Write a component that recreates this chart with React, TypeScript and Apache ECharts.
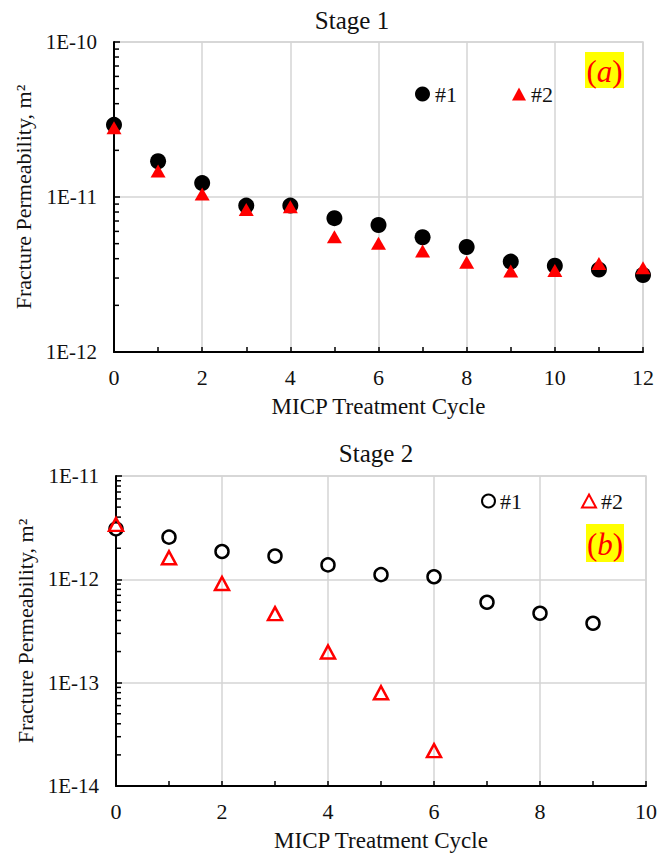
import React, { useEffect, useRef } from "react";
import * as echarts from "echarts";

// ---- Data ----
const stage1Cycles = [0, 1, 2, 3, 4, 5, 6, 7, 8, 9, 10, 11, 12];
const stage1Sample1 = [2.92e-11, 1.7e-11, 1.23e-11, 8.8e-12, 8.8e-12, 7.3e-12, 6.6e-12, 5.5e-12, 4.76e-12, 3.83e-12, 3.6e-12, 3.4e-12, 3.14e-12];
const stage1Sample2 = [2.8e-11, 1.47e-11, 1.045e-11, 8.3e-12, 8.65e-12, 5.55e-12, 5.03e-12, 4.49e-12, 3.79e-12, 3.33e-12, 3.35e-12, 3.73e-12, 3.5e-12];

const stage2Cycles1 = [0, 1, 2, 3, 4, 5, 6, 7, 8, 9];
const stage2Sample1 = [3.08e-12, 2.56e-12, 1.86e-12, 1.68e-12, 1.38e-12, 1.11e-12, 1.06e-12, 6.0e-13, 4.7e-13, 3.76e-13];
const stage2Cycles2 = [0, 1, 2, 3, 4, 5, 6];
const stage2Sample2 = [3.4e-12, 1.62e-12, 9.1e-13, 4.66e-13, 1.98e-13, 8.0e-14, 2.2e-14];

const titles = ["Stage 1", "Stage 2"];
const panelLabels = ["a", "b"];
const xAxisTitle = "MICP Treatment Cycle";
const yAxisTitle = "Fracture Permeability, m²";

const FONT = "Liberation Serif";

function minorValues(minExp: number, maxExp: number): number[] {
  const out: number[] = [];
  for (let e = minExp; e < maxExp; e++) {
    for (let k = 2; k <= 9; k++) out.push(parseFloat((k * Math.pow(10, e)).toPrecision(3)));
  }
  return out;
}

const pair = (xs: number[], ys: number[]) => xs.map((x, i) => [x, ys[i]]);

export default function App() {
  const ref = useRef<HTMLDivElement>(null);
  useEffect(() => {
    if (!ref.current) return;
    const chart = echarts.init(ref.current, null, { renderer: "svg" });

    const grids = [
      { left: 114, top: 42, width: 529, height: 310 },
      { left: 116, top: 476, width: 530, height: 310 },
    ];

    const mkX = (gi: number, max: number) => ({
      type: "value",
      gridIndex: gi,
      min: 0,
      max,
      interval: 2,
      name: xAxisTitle,
      nameLocation: "middle",
      nameGap: 43,
      nameTextStyle: { fontFamily: FONT, fontSize: 23, color: "#111" },
      axisLine: { show: true, onZero: false, lineStyle: { color: "#000", width: 2 } },
      axisTick: { show: true, inside: true, length: 5, lineStyle: { color: "#000", width: 1.5 } },
      minorTick: { show: true, splitNumber: 2, length: 5, lineStyle: { color: "#000", width: 1.5 } },
      axisLabel: { fontFamily: FONT, fontSize: 22, color: "#111", margin: 14 },
      splitLine: { show: true, lineStyle: { color: "#d4d4d4", width: 1.5 } },
    });

    const mkY = (gi: number, min: number, max: number) => ({
      type: "log",
      logBase: 10,
      gridIndex: gi,
      min,
      max,
      name: yAxisTitle,
      nameLocation: "middle",
      nameGap: 78,
      nameTextStyle: { fontFamily: FONT, fontSize: 22, color: "#111" },
      axisLine: { show: true, onZero: false, lineStyle: { color: "#000", width: 2 } },
      axisTick: { show: true, inside: true, length: 6, lineStyle: { color: "#000", width: 1.5 } },
      axisLabel: {
        fontFamily: FONT,
        fontSize: 21,
        color: "#111",
        margin: 17,
        formatter: (v: number) => "1E" + Math.round(Math.log10(v)),
      },
      splitLine: { show: true, lineStyle: { color: "#d4d4d4", width: 1.5 } },
    });

    const minorSeries = (gi: number, vals: number[]) => [
      {
        type: "scatter",
        name: "minorGrid" + gi,
        xAxisIndex: gi,
        yAxisIndex: gi,
        data: [],
        silent: true,
        z: 1,
        markLine: {
          silent: true,
          symbol: "none",
          animation: false,
          label: { show: false },
          lineStyle: { color: "#e8e8e8", type: "solid", width: 1.2 },
          data: vals.map((v) => ({ yAxis: v })),
        },
      },
      {
        type: "scatter",
        name: "minorTick" + gi,
        xAxisIndex: gi,
        yAxisIndex: gi,
        silent: true,
        z: 2,
        symbol: "rect",
        symbolSize: [5, 1.5],
        symbolOffset: [2.5, 0],
        itemStyle: { color: "#000", opacity: 1 },
        data: vals.map((v) => [0, v]),
      },
    ];

    const legendText = { fontFamily: FONT, fontSize: 22, color: "#111" };
    const fmt = (n: string) => n.split(" ")[1];

    const richLabel = {
      p: { fontFamily: FONT, fontSize: 31, fill: "#ff0000", color: "#ff0000" },
      i: { fontFamily: FONT, fontSize: 31, fontStyle: "italic", fill: "#ff0000", color: "#ff0000" },
    };

    const option: any = {
      animation: false,
      backgroundColor: "#fff",
      grid: grids.map((g) => ({ ...g, show: true, borderColor: "#d4d4d4", borderWidth: 1.5, backgroundColor: "transparent" })),
      xAxis: [mkX(0, 12), mkX(1, 10)],
      yAxis: [mkY(0, 1e-12, 1e-10), mkY(1, 1e-14, 1e-11)],
      legend: [
        { data: ["S1 #1"], left: 410, top: 78, itemWidth: 15, itemHeight: 15, itemGap: 4, formatter: fmt, textStyle: legendText, selectedMode: false },
        { data: ["S1 #2"], left: 507, top: 78, itemWidth: 14, itemHeight: 13, itemGap: 4, formatter: fmt, textStyle: legendText, selectedMode: false },
        { data: ["S2 #1"], left: 476, top: 485, itemWidth: 13, itemHeight: 13, itemGap: 4, formatter: fmt, textStyle: legendText, selectedMode: false },
        { data: ["S2 #2"], left: 576, top: 485, itemWidth: 14, itemHeight: 13, itemGap: 4, formatter: fmt, textStyle: legendText, selectedMode: false },
      ],
      series: [
        ...minorSeries(0, minorValues(-12, -10)),
        ...minorSeries(1, minorValues(-14, -11)),
        {
          type: "scatter",
          name: "S1 #1",
          xAxisIndex: 0,
          yAxisIndex: 0,
          z: 3,
          symbol: "circle",
          symbolSize: 16,
          itemStyle: { color: "#000", opacity: 1 },
          data: pair(stage1Cycles, stage1Sample1),
        },
        {
          type: "scatter",
          name: "S1 #2",
          xAxisIndex: 0,
          yAxisIndex: 0,
          z: 4,
          symbol: "triangle",
          symbolSize: [15, 13],
          itemStyle: { color: "#ff0000", opacity: 1 },
          data: pair(stage1Cycles, stage1Sample2),
        },
        {
          type: "scatter",
          name: "S2 #1",
          xAxisIndex: 1,
          yAxisIndex: 1,
          z: 3,
          symbol: "circle",
          symbolSize: 13,
          itemStyle: { color: "#fff", borderColor: "#000", borderWidth: 2.5, opacity: 1 },
          data: pair(stage2Cycles1, stage2Sample1),
        },
        {
          type: "scatter",
          name: "S2 #2",
          xAxisIndex: 1,
          yAxisIndex: 1,
          z: 4,
          symbol: "triangle",
          symbolSize: [14, 13],
          itemStyle: { color: "rgba(255,255,255,0)", borderColor: "#ff0000", borderWidth: 2.5, opacity: 1 },
          data: pair(stage2Cycles2, stage2Sample2),
        },
      ],
      graphic: [
        { type: "text", x: 352, y: 20, style: { text: titles[0], fontFamily: FONT, fontSize: 25, fill: "#111", align: "center", verticalAlign: "middle" } },
        { type: "text", x: 376, y: 453, style: { text: titles[1], fontFamily: FONT, fontSize: 25, fill: "#111", align: "center", verticalAlign: "middle" } },
        { type: "rect", shape: { x: 585, y: 52, width: 39, height: 36 }, style: { fill: "#ffff00" }, z: 10 },
        {
          type: "text",
          x: 604.5,
          y: 71,
          z: 11,
          style: {
            text: "{p|(}{i|" + panelLabels[0] + "}{p|)}",
            align: "center",
            verticalAlign: "middle",
            rich: richLabel,
          },
        },
        { type: "rect", shape: { x: 586, y: 524, width: 38, height: 38 }, style: { fill: "#ffff00" }, z: 10 },
        {
          type: "text",
          x: 605,
          y: 544,
          z: 11,
          style: {
            text: "{p|(}{i|" + panelLabels[1] + "}{p|)}",
            align: "center",
            verticalAlign: "middle",
            rich: richLabel,
          },
        },
      ],
    };

    chart.setOption(option);
    return () => chart.dispose();
  }, []);

  return <div ref={ref} style={{ position: "fixed", left: 0, top: 0, width: 668, height: 854, background: "#fff" }} />;
}
